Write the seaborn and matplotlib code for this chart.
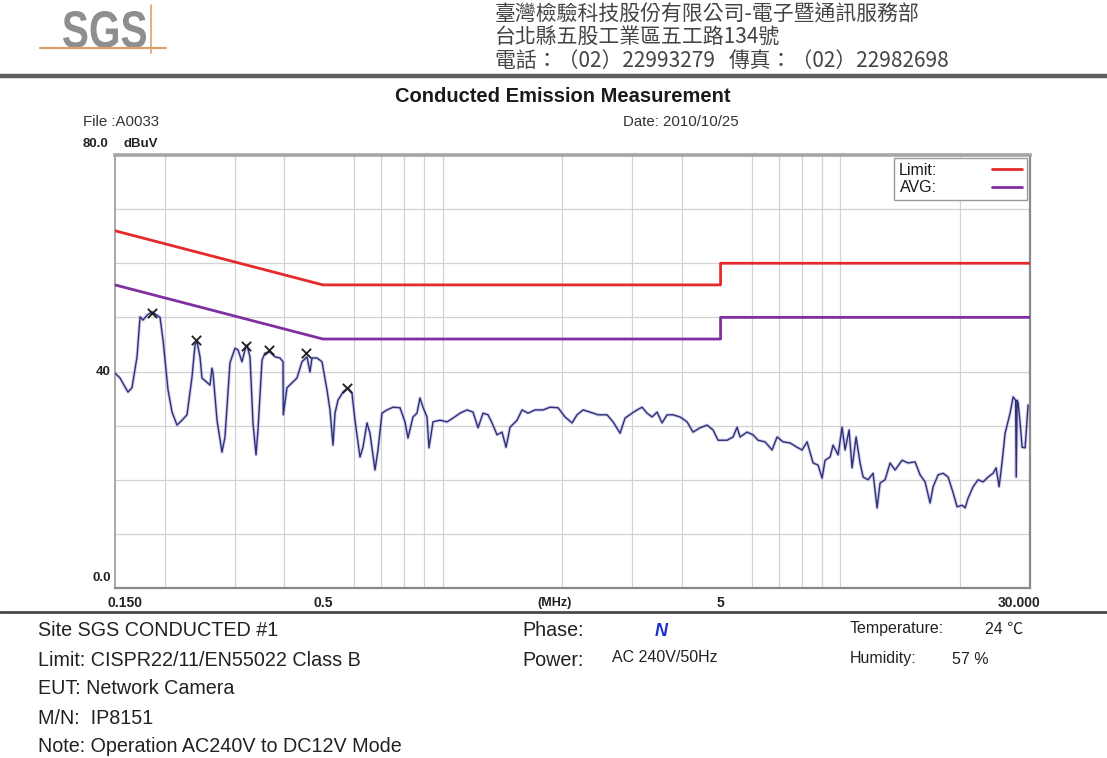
import matplotlib
matplotlib.use("Agg")
import matplotlib.pyplot as plt
from matplotlib.lines import Line2D
from matplotlib.patches import PathPatch
from matplotlib.textpath import TextPath
from matplotlib.font_manager import FontProperties
from matplotlib.ticker import FixedLocator, NullFormatter
from matplotlib.transforms import Affine2D, ScaledTranslation
import pandas as pd
import seaborn as sns

# ---- measured trace (frequency in MHz, level in dBuV) ----
freq_mhz = [
    0.150, 0.1544, 0.1617, 0.1655, 0.1704, 0.1734, 0.1764, 0.1805, 0.1859, 0.1947,
    0.1981, 0.2039, 0.2087, 0.2148, 0.2211, 0.2276, 0.2343, 0.2384, 0.2412, 0.2454,
    0.2482, 0.2555, 0.2600, 0.2630, 0.2646, 0.2708, 0.2787, 0.2836, 0.2919, 0.3005,
    0.3058, 0.3129, 0.3184, 0.3221, 0.3278, 0.3335, 0.3394, 0.3433, 0.3514, 0.3575,
    0.3680, 0.3788, 0.3900, 0.3968, 0.3975, 0.4061, 0.4180, 0.4303, 0.4429, 0.4559,
    0.4639, 0.4693, 0.4831, 0.4973, 0.5119,
    0.5209, 0.5300, 0.5362, 0.5456, 0.5616, 0.5781, 0.5916, 0.6020, 0.6197, 0.6306,
    0.6453, 0.6566, 0.6759, 0.6878, 0.7039, 0.7245, 0.7502, 0.7812, 0.8041, 0.8182,
    0.8423, 0.8620, 0.8771, 0.8925, 0.9134, 0.9240, 0.9460, 0.9851, 1.0259, 1.0621,
    1.1061, 1.1519, 1.1925, 1.2276, 1.2636, 1.3007, 1.3312, 1.3703, 1.4106, 1.4436,
    1.4776, 1.5387, 1.5840, 1.6400, 1.7079, 1.7888, 1.8627, 1.9511,
    2.0318, 2.1159, 2.1780, 2.2550, 2.3483, 2.4596, 2.5914, 2.6829, 2.7939, 2.8760,
    2.9951, 3.0830, 3.1736, 3.2667, 3.3627, 3.4614, 3.5631, 3.6678, 3.7974, 3.9545,
    4.1180, 4.2636, 4.4400, 4.6236, 4.7870, 4.9277, 5.1912, 5.3747, 5.5005, 5.5970,
    5.8284, 6.0344, 6.2117, 6.4686, 6.7362, 6.9357, 7.1808, 7.4777, 7.7870, 8.0159,
    8.2518, 8.5433, 8.7942, 9.0000, 9.1578, 9.4270, 9.5920, 9.8740, 10.105, 10.282,
    10.523, 10.708, 10.959, 11.215, 11.412, 11.747, 12.092, 12.376, 12.592, 12.962,
    13.343, 13.735, 14.303, 14.810, 15.423, 15.876, 16.342, 16.822, 17.118, 17.621,
    18.139, 18.672, 19.220, 19.670, 20.248, 20.602, 20.963, 21.580, 22.213, 22.866,
    23.538, 24.229, 24.654, 25.086, 25.527, 25.974, 26.737, 27.205, 27.600, 27.700,
    27.850, 28.005, 28.330, 28.660, 29.163, 29.502, 29.673,
]
level_dbuv = [
    39.7, 38.8, 36.2, 37.0, 42.7, 50.1, 49.5, 50.4, 51.0, 50.0,
    45.8, 36.6, 32.5, 30.1, 31.0, 32.0, 39.0, 44.9, 45.5, 42.7,
    38.8, 38.0, 37.5, 40.6, 39.7, 31.0, 25.1, 27.9, 41.6, 44.3,
    44.0, 41.8, 44.0, 44.9, 42.7, 30.5, 24.6, 29.2, 42.1, 43.4,
    43.6, 42.7, 42.5, 41.8, 32.0, 37.0, 37.9, 38.8, 41.8, 42.7,
    39.9, 42.5, 42.5, 41.8, 36.6,
    32.9, 26.4, 32.3, 34.7, 36.2, 37.0, 36.0, 31.0, 24.2, 26.0,
    30.5, 28.6, 21.8, 25.5, 32.3, 32.9, 33.4, 33.3, 30.7, 27.7,
    31.6, 32.3, 35.1, 33.4, 31.6, 25.9, 30.7, 31.0, 30.7, 31.4,
    32.3, 32.9, 32.5, 29.6, 32.3, 32.0, 30.5, 28.3, 28.8, 26.0,
    29.7, 31.0, 32.9, 32.3, 32.9, 32.9, 33.4, 33.3,
    31.6, 30.5, 32.0, 32.9, 32.5, 32.0, 32.0, 30.7, 28.6, 31.4,
    32.3, 32.9, 33.4, 32.3, 31.6, 32.5, 30.5, 32.0, 32.0, 31.6,
    30.7, 28.8, 29.6, 30.1, 29.2, 27.3, 27.3, 27.9, 29.7, 27.9,
    28.8, 28.3, 27.3, 27.0, 25.5, 27.9, 27.0, 26.8, 26.0, 25.5,
    27.0, 23.1, 22.7, 20.3, 23.6, 24.2, 26.4, 24.6, 29.7, 25.5,
    29.2, 22.2, 27.9, 23.1, 20.5, 20.0, 21.2, 14.8, 19.4, 20.0,
    23.1, 21.8, 23.6, 23.1, 23.3, 20.9, 19.6, 15.7, 18.7, 20.9,
    21.2, 20.5, 17.6, 15.0, 15.3, 14.8, 16.6, 18.7, 20.0, 19.6,
    20.5, 21.2, 22.2, 18.7, 23.3, 28.6, 32.3, 35.3, 34.7, 20.5,
    34.7, 34.2, 30.5, 26.0, 25.9, 31.0, 33.8,
]

# ---- CISPR 22 class B limits ----
limit_freq = [0.15, 0.5, 5.0, 5.0, 30.0]
qp_limit = [66, 56, 56, 60, 60]
avg_limit = [56, 46, 46, 50, 50]

# ---- marked peaks ----
peak_freq = [0.1855, 0.2394, 0.3197, 0.3665, 0.4525, 0.5738]
peak_level = [50.9, 45.8, 44.8, 44.0, 43.4, 36.9]

# ---- axis labelling ----
x_tick_pos = [0.15, 0.5, 5, 30]
x_tick_text = ["0.150", "0.5", "5", "30.000"]
grid_freq = [m * 10.0 ** e for e in (-1, 0, 1) for m in range(1, 10)
             if 0.15 < m * 10.0 ** e < 30]

sns.set_theme(style="white")
plt.rcParams["font.family"] = ["Liberation Sans", "Noto Sans CJK TC", "DejaVu Sans"]

W, H = 1107, 758
fig = plt.figure(figsize=(W / 100, H / 100), dpi=100)
fig.patch.set_facecolor("white")


def fx(x):
    return x / W


def fy(y):
    return 1 - y / H


ax = fig.add_axes([fx(115), fy(588), fx(1030) - fx(115), fy(155) - fy(588)])
ax.set_xscale("log")

trace = pd.DataFrame({"freq": freq_mhz, "level": level_dbuv})
limits = pd.DataFrame({"freq": limit_freq, "qp": qp_limit, "avg": avg_limit})

sns.lineplot(data=trace, x="freq", y="level", estimator=None, sort=False,
             color="#9a9ad8", lw=2.4, alpha=0.45, ax=ax, zorder=2)
sns.lineplot(data=trace, x="freq", y="level", estimator=None, sort=False,
             color="#2f2f78", lw=1.0, ax=ax, zorder=3)
sns.lineplot(data=limits, x="freq", y="qp", estimator=None, sort=False,
             color="#e42a2a", lw=2.0, ax=ax, zorder=4, label="Limit:")
sns.lineplot(data=limits, x="freq", y="avg", estimator=None, sort=False,
             color="#7f2fa0", lw=2.0, ax=ax, zorder=4, label="AVG:")
sns.scatterplot(x=peak_freq, y=peak_level, marker="x", color="#1e1e1e",
                s=45, linewidth=1.3, ax=ax, zorder=5)

ax.set_xlim(0.15, 30)
ax.set_ylim(0, 80)
ax.set_xlabel("")
ax.set_ylabel("")

ax.xaxis.set_major_locator(FixedLocator(x_tick_pos))
ax.set_xticklabels(x_tick_text)
ax.xaxis.set_minor_locator(FixedLocator(grid_freq))
ax.xaxis.set_minor_formatter(NullFormatter())
ax.set_yticks(range(0, 81, 10))
ax.set_yticklabels([])
ax.tick_params(axis="both", which="both", length=0)
ax.tick_params(axis="x", pad=6, labelsize=10, labelcolor="#222222")
for lab in ax.get_xticklabels():
    lab.set_fontweight("bold")
labs = ax.get_xticklabels()
labs[0].set_ha("left")
labs[0].set_transform(labs[0].get_transform() + ScaledTranslation(-0.08, 0, fig.dpi_scale_trans))
labs[-1].set_ha("right")
labs[-1].set_transform(labs[-1].get_transform() + ScaledTranslation(0.10, 0, fig.dpi_scale_trans))

ax.grid(False)
ax.grid(True, which="minor", axis="x", color="#d2d2d2", lw=0.9)
ax.grid(True, which="major", axis="y", color="#d2d2d2", lw=0.9)

for side, lw, col in (("left", 1.2, "#9a9a9a"), ("bottom", 1.6, "#8a8a8a"),
                      ("right", 1.6, "#8a8a8a"), ("top", 2.6, "#a5a5a5")):
    ax.spines[side].set_visible(True)
    ax.spines[side].set_linewidth(lw)
    ax.spines[side].set_color(col)

leg = ax.legend(loc="upper right", markerfirst=False, frameon=True, fancybox=False,
                edgecolor="#9a9a9a", framealpha=1, fontsize=11.5, handlelength=1.9,
                borderaxespad=0.2, labelspacing=0.15, borderpad=0.3, handletextpad=3.4)
leg.get_frame().set_linewidth(1.0)
for t in leg.get_texts():
    t.set_color("#1a1a1a")

# value labels of the level axis
fig.text(fx(83), fy(144), "80.0", ha="left", va="center", fontsize=9.5, weight="bold", color="#222")
fig.text(fx(123), fy(144), "dBuV", ha="left", va="center", fontsize=9.5, weight="bold", color="#222")
fig.text(fx(111), fy(372), "40", ha="right", va="center", fontsize=9.5, weight="bold", color="#222")
fig.text(fx(111), fy(578), "0.0", ha="right", va="center", fontsize=9.5, weight="bold", color="#222")
fig.text(fx(555), fy(603), "(MHz)", ha="center", va="center", fontsize=9, weight="bold", color="#222")

# title block
fig.text(fx(563), fy(97), "Conducted Emission Measurement", ha="center", va="center",
         fontsize=14.5, weight="bold", color="#1a1a1a")
fig.text(fx(83), fy(122), "File :A0033", ha="left", va="center", fontsize=10.8, color="#333")
fig.text(fx(623), fy(122), "Date: 2010/10/25", ha="left", va="center", fontsize=10.8, color="#333")

# letterhead: narrow grey SGS mark with its orange rules
logo = TextPath((0, 0), "SGS", size=1, prop=FontProperties(family="Liberation Sans", weight="bold"))
ext = logo.get_extents()
logo_tf = (Affine2D().translate(-ext.x0, -ext.y0)
           .scale(0.83 / ext.width, 0.37 / ext.height)
           .translate(0.63, (H - 48) / 100) + fig.dpi_scale_trans)
fig.add_artist(PathPatch(logo, transform=logo_tf, facecolor="#8e8e8e", edgecolor="none"))
fig.add_artist(Line2D([fx(40), fx(166)], [fy(48), fy(48)], color="#d9a26c", lw=1.6))
fig.add_artist(Line2D([fx(151), fx(151)], [fy(5), fy(53)], color="#e0a070", lw=1.2))
cjk = ["Noto Sans CJK TC", "DejaVu Sans"]
fig.text(fx(495), fy(15), "臺灣檢驗科技股份有限公司-電子暨通訊服務部", ha="left", va="center",
         fontsize=15, color="#444444", family=cjk)
fig.text(fx(495), fy(38), "台北縣五股工業區五工路134號", ha="left", va="center",
         fontsize=15, color="#444444", family=cjk)
fig.text(fx(495), fy(61), "電話：（02）22993279   傳真：（02）22982698", ha="left", va="center",
         fontsize=15, color="#444444", family=cjk)
fig.add_artist(Line2D([0, 1], [fy(76), fy(76)], color="#5e5e5e", lw=3.2))

# footer with test conditions
fig.add_artist(Line2D([0, 1], [fy(612), fy(612)], color="#4a4a4a", lw=2.0))
foot = dict(ha="left", va="center", fontsize=14.2, color="#222")
small = dict(ha="left", va="center", fontsize=11.5, color="#222")
fig.text(fx(38), fy(631), "Site SGS CONDUCTED #1", **foot)
fig.text(fx(38), fy(660), "Limit: CISPR22/11/EN55022 Class B", **foot)
fig.text(fx(38), fy(689), "EUT: Network Camera", **foot)
fig.text(fx(38), fy(718), "M/N:  IP8151", **foot)
fig.text(fx(38), fy(746), "Note: Operation AC240V to DC12V Mode", **foot)
fig.text(fx(522), fy(631), "Phase:", **foot)
fig.text(fx(655), fy(631), "N", ha="left", va="center", fontsize=13, weight="bold",
         style="italic", color="#1f2fd0")
fig.text(fx(522), fy(660), "Power:", **foot)
fig.text(fx(612), fy(658), "AC 240V/50Hz", **small)
fig.text(fx(850), fy(629), "Temperature:", **small)
fig.text(fx(985), fy(629), "24 ℃", **small)
fig.text(fx(850), fy(659), "Humidity:", **small)
fig.text(fx(952), fy(659), "57 %", **small)

fig.savefig("out.png", dpi=100, facecolor="white")
